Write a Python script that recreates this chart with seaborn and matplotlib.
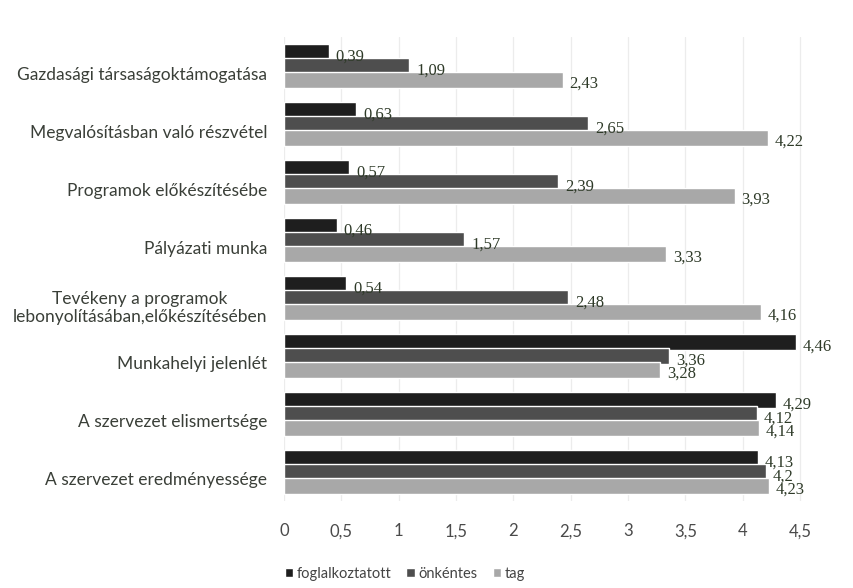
import matplotlib
matplotlib.use("Agg")
import matplotlib.pyplot as plt
import matplotlib.transforms as mtransforms
import seaborn as sns
import pandas as pd

categories = [
    "Gazdasági társaságoktámogatása",
    "Megvalósításban való részvétel",
    "Programok előkészítésébe",
    "Pályázati munka",
    "Tevékeny a programok\nlebonyolításában,előkészítésében",
    "Munkahelyi jelenlét",
    "A szervezet elismertsége",
    "A szervezet eredményessége",
]
series = ["foglalkoztatott", "önkéntes", "tag"]
foglalkoztatott = [0.39, 0.63, 0.57, 0.46, 0.54, 4.46, 4.29, 4.13]
onkentes = [1.09, 2.65, 2.39, 1.57, 2.48, 3.36, 4.12, 4.2]
tag = [2.43, 4.22, 3.93, 3.33, 4.16, 3.28, 4.14, 4.23]
x_ticks = [0, 0.5, 1, 1.5, 2, 2.5, 3, 3.5, 4, 4.5]

values = {"foglalkoztatott": foglalkoztatott, "önkéntes": onkentes, "tag": tag}
rows = []
for s in series:
    for c, v in zip(categories, values[s]):
        rows.append({"cat": c, "series": s, "value": v})
df = pd.DataFrame(rows)

sns.set_theme(style="white")
plt.rcParams["font.family"] = ["Lato", "DejaVu Sans"]

fig = plt.figure(figsize=(8.54, 5.88), dpi=100)
ax = fig.add_axes([0.3326, 0.148, 0.6674, 0.789])

palette = {"foglalkoztatott": "#1e1e1e", "önkéntes": "#4e4e4e", "tag": "#a8a8a8"}
sns.barplot(data=df, y="cat", x="value", hue="series", hue_order=series,
            order=categories, orient="h", palette=palette, saturation=1,
            width=0.71, ax=ax, legend=True)

# slightly taller bars so neighbouring series overlap a little, as in the reference
for cont in ax.containers:
    for bar in cont:
        h = bar.get_height()
        yc = bar.get_y() + h / 2
        bar.set_height(h * 1.18)
        bar.set_y(yc - h * 1.18 / 2)

ax.set_xlim(0, 4.97)
ax.set_xticks(x_ticks)
ax.set_xticklabels([f"{t:g}".replace(".", ",") for t in x_ticks],
                   fontsize=12, color="#4a4a4a")
ax.tick_params(axis="x", pad=16, length=0)
ax.tick_params(axis="y", length=0, pad=12)
ax.set_xlabel("")
ax.set_ylabel("")
ax.grid(axis="x", color="#ececec", linewidth=0.9)
ax.set_axisbelow(True)
for sp in ax.spines.values():
    sp.set_visible(False)

offset = mtransforms.ScaledTranslation(0, -7 / 100, fig.dpi_scale_trans)
for lab in ax.get_yticklabels():
    lab.set_fontsize(12.5)
    lab.set_color("#3a3f38")
    lab.set_multialignment("center")
    lab.set_transform(lab.get_transform() + offset)

for cont, s in zip(ax.containers, series):
    for bar, v in zip(cont, values[s]):
        y = bar.get_y() + bar.get_height() / 2
        ax.annotate(f"{v:g}".replace(".", ","), xy=(bar.get_width(), y),
                    xytext=(5, -3), textcoords="offset points",
                    ha="left", va="center", fontsize=12,
                    family=["Liberation Serif"], color="#2e3a28")

handles, labels = ax.get_legend_handles_labels()
ax.legend(handles, labels, loc="lower left", bbox_to_anchor=(0.318, -0.01),
          bbox_transform=fig.transFigure, ncol=3, frameon=False,
          handlelength=0.6, handleheight=0.6, handletextpad=0.25,
          columnspacing=1.0, fontsize=10.5, labelcolor="#444444")

fig.savefig("out.png", dpi=100, facecolor="white")
